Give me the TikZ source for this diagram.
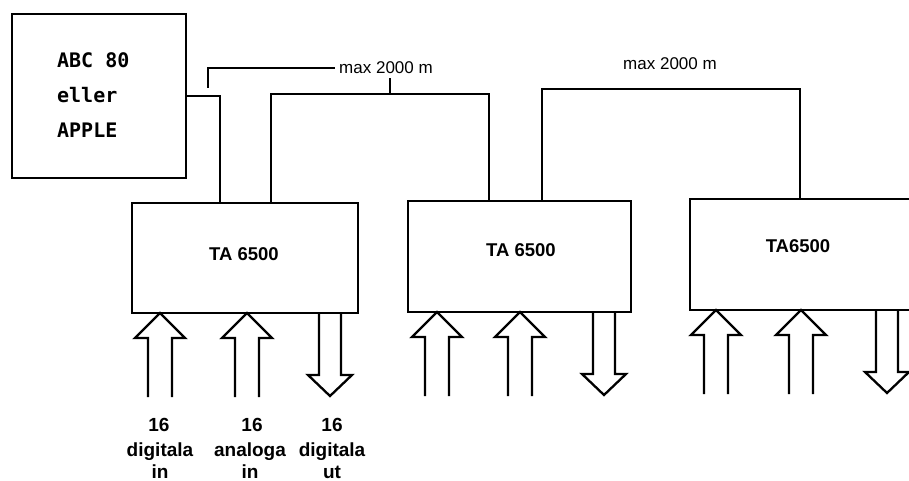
\documentclass[tikz,border=0pt]{standalone}
\usepackage{fontspec}
\usetikzlibrary{calc}
\newfontfamily\labfont{Liberation Sans}
\newfontfamily\typefont{DejaVu Sans Mono}
\newcommand\hollowup[2]{\draw ({#1-12},{#2+84}) -- ({#1-12},{#2+25}) -- ({#1-25},{#2+25}) -- (#1,#2) -- ({#1+25},{#2+25}) -- ({#1+12},{#2+25}) -- ({#1+12},{#2+84});}
\newcommand\hollowdown[2]{\draw ({#1-11},#2) -- ({#1-11},{#2+62}) -- ({#1-22},{#2+62}) -- (#1,{#2+83}) -- ({#1+22},{#2+62}) -- ({#1+11},{#2+62}) -- ({#1+11},#2);}
\begin{document}
\begin{tikzpicture}[x=1pt,y=-1pt,line width=2.3pt,
  unitbox/.style={draw,inner sep=0pt},
  lbl/.style={inner sep=0pt,font=\labfont\bfseries\fontsize{18.5}{20}\selectfont},
  dist/.style={inner sep=3pt,font=\labfont\fontsize{17}{18}\selectfont},
  io/.style={inner sep=0pt,anchor=base,font=\labfont\bfseries\fontsize{19}{20}\selectfont}]
\useasboundingbox (0,0) rectangle (909,481);
\clip (0,0) rectangle (909,481);
% boxes
\node[unitbox,minimum width=174pt,minimum height=164pt] (abc) at (99,96) {};
\node[inner sep=0pt,anchor=north west,align=left,font=\typefont\bfseries\fontsize{20}{35}\selectfont] (abctext) at (56,52) {ABC 80\\eller\\APPLE};
\node[unitbox,minimum width=226pt,minimum height=110pt] (b1) at (245,258) {};
\node[unitbox,minimum width=223pt,minimum height=111pt] (b2) at (519.5,256.5) {};
\node[unitbox,minimum width=240pt,minimum height=111pt] (b3) at (810,254.5) {};
\node[lbl] (t1) at (244,254) {TA 6500};
\node[lbl] (t2) at (521,250) {TA 6500};
\node[lbl] (t3) at (798,246) {TA6500};
% distance labels
\node[dist] (d1) at (386,68) {max 2000 m};
\node[dist] (d2) at (670,64) {max 2000 m};
% wires
\draw (abc.east) -| ($(b1.north west)+(89,0)$);
\coordinate (feed) at (208,88);
\draw (feed) |- (d1.west);
\coordinate (tick) at (390,95);
\draw (tick |- d1.south) -- (tick);
\coordinate (w1a) at ($(b1.north west)+(140,0)$);
\coordinate (w1b) at ($(b2.north west)+(82,0)$);
\draw (w1a) -- ++(0,-108) -| (w1b);
\coordinate (w2a) at ($(b2.north west)+(135,0)$);
\coordinate (w2b) at ($(b3.north west)+(111,0)$);
\draw (w2a) -- ++(0,-111) -| (w2b);
% io arrows
\hollowup{160}{313}
\hollowup{247}{313}
\hollowdown{330}{313}
\hollowup{437}{312}
\hollowup{520}{312}
\hollowdown{604}{312}
\hollowup{716}{310}
\hollowup{801}{310}
\hollowdown{887}{310}
% io labels
\node[io] (n1) at (159,431) {16};
\node[io] (n2) at (252,431) {16};
\node[io] (n3) at (332,431) {16};
\node[io] (k1) at (160,456) {digitala};
\node[io] (k2) at (250,456) {analoga};
\node[io] (k3) at (332,456) {digitala};
\node[io] (i1) at (160,478) {in};
\node[io] (i2) at (250,478) {in};
\node[io] (i3) at (332,478) {ut};
\end{tikzpicture}
\end{document}
